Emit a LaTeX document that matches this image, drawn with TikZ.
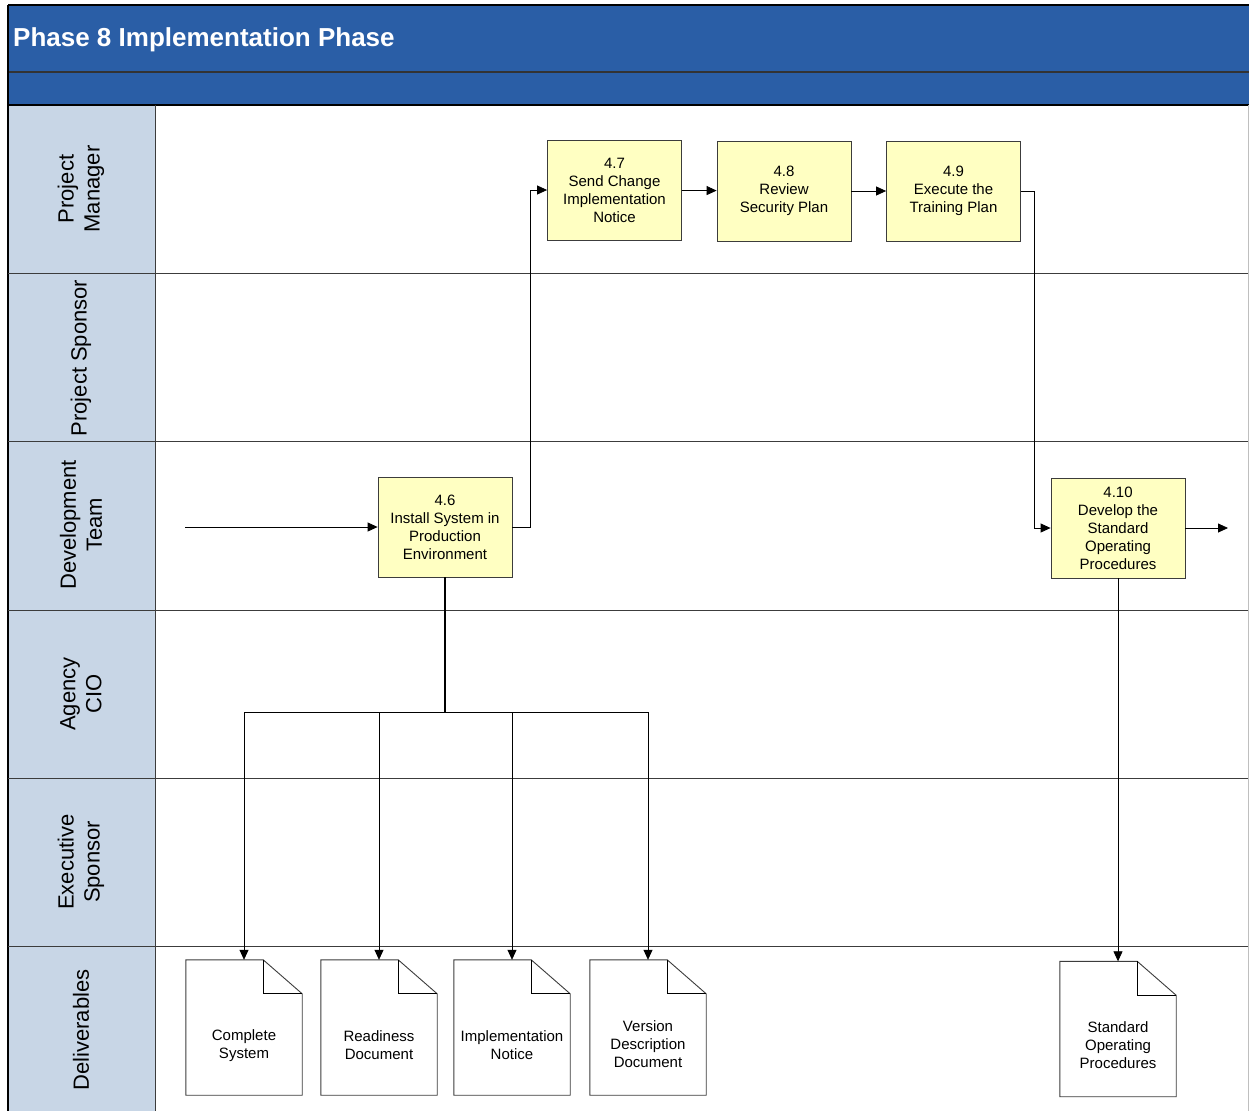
\documentclass[tikz,border=0pt]{standalone}
\usepackage{fontspec}
\setmainfont{Liberation Sans}
\usetikzlibrary{arrows.meta,calc}
\definecolor{hdrblue}{RGB}{42,94,166}
\definecolor{lanegray}{RGB}{200,214,230}
\definecolor{boxyellow}{RGB}{255,255,194}
\definecolor{linegray}{RGB}{60,60,60}
\begin{document}
\begin{tikzpicture}[x=1pt,y=-1pt,
  proc/.style={draw=linegray, line width=0.8pt, fill=boxyellow, minimum width=134pt, minimum height=100pt, inner sep=0pt, align=center, font=\fontsize{15}{18}\selectfont},
  doc/.style={minimum width=116pt, minimum height=135pt, inner sep=0pt},
  doctext/.style={align=center, font=\fontsize{15}{18}\selectfont, inner sep=0pt},
  lanelbl/.style={rotate=90, align=center, font=\fontsize{22}{26}\selectfont, inner sep=0pt},
  flow/.style={draw=black, line width=0.8pt, -{Triangle[length=10pt,width=9pt]}},
  laneline/.style={draw=linegray, line width=1pt}]
\useasboundingbox (0,0) rectangle (1249,1111);
\fill[white] (0,0) rectangle (1249,1111);
% header
\fill[hdrblue] (8,5) rectangle (1249,105);
\fill[lanegray] (8,105) rectangle (155,1111);
\draw[black, line width=1.2pt] (8,5) -- (1249,5);
\draw[black!80, line width=1.5pt] (8,72) -- (1249,72);
\draw[black, line width=1.2pt] (8,105) -- (1249,105);
\draw[black, line width=1.2pt] (8,5) -- (8,1111);
\node[anchor=base west, text=white, font=\bfseries\fontsize{26}{30}\selectfont, inner sep=0pt] (title) at (13,46) {Phase 8 Implementation Phase};
% lanes
\foreach \yy in {273,441,610,778,946} \draw[laneline] (8,\yy) -- (1249,\yy);
\draw[laneline] (155,105) -- (155,1111);
\draw[gray!50, line width=1pt] (1248,105) -- (1248,1111);
\node[lanelbl] (lpm) at (81,189) {Project\\Manager};
\node[lanelbl] (lps) at (81,358) {Project Sponsor};
\node[lanelbl] (ldt) at (81,525) {Development\\Team};
\node[lanelbl] (lcio) at (81,694) {Agency\\CIO};
\node[lanelbl] (les) at (81,862) {Executive\\Sponsor};
\node[lanelbl] (ldel) at (81,1030) {Deliverables};
% processes
\node[proc] (p47) at (614.5,190) {4.7\\Send Change\\Implementation\\Notice};
\node[proc] (p48) at (784,191) {4.8\\Review\\Security Plan};
\node[proc] (p49) at (953.5,191) {4.9\\Execute the\\Training Plan};
\node[proc] (p46) at (445,527) {4.6\\Install System in\\Production\\Environment};
\node[proc] (p410) at (1118,528) {4.10\\Develop the\\Standard\\Operating\\Procedures};
% documents
\node[doc] (d1) at (244,1027.5) {};
\node[doc] (d2) at (379,1027.5) {};
\node[doc] (d3) at (512,1027.5) {};
\node[doc] (d4) at (648,1027.5) {};
\node[doc] (d5) at (1118,1029) {};
\foreach \d in {d1,d2,d3,d4,d5} {
  \draw[linegray, line width=0.9pt, fill=white] (\d.north west) -- ([xshift=-39pt]\d.north east) -- ([yshift=-34pt]\d.north east) -- (\d.south east) -- (\d.south west) -- cycle;
  \draw[black, line width=1.1pt] ([xshift=-39pt]\d.north east) -- ([xshift=-39pt,yshift=-34pt]\d.north east) -- ([yshift=-34pt]\d.north east);
}
\node[doctext] (t1) at ([yshift=-18pt]d1.center) {Complete\\System};
\node[doctext] (t2) at ([yshift=-18pt]d2.center) {Readiness\\Document};
\node[doctext] (t3) at ([yshift=-18pt]d3.center) {Implementation\\Notice};
\node[doctext] (t4) at ([yshift=-17pt]d4.center) {Version\\Description\\Document};
\node[doctext] (t5) at ([yshift=-16pt]d5.center) {Standard\\Operating\\Procedures};
% connectors
\coordinate (start) at (185,527);
\coordinate (end) at (1228,528);
\coordinate (bus) at (445,712);
\draw[flow] (start) -- (p46.west);
\draw[flow] (p46.east) -- ++(18,0) |- (p47.west);
\draw[flow] (p47) -- (p48);
\draw[flow] (p48) -- (p49);
\draw[flow] (p49.east) -- ++(13,0) |- (p410.west);
\draw[flow] (p410.east) -- (end);
\draw[black, line width=2pt] (p46.south) -- (bus);
\draw[flow] (bus) -| (d1.north);
\draw[flow] (bus) -| (d2.north);
\draw[flow] (bus) -| (d3.north);
\draw[flow] (bus) -| (d4.north);
\draw[flow] (p410.south) -- (d5.north);
\end{tikzpicture}
\end{document}
